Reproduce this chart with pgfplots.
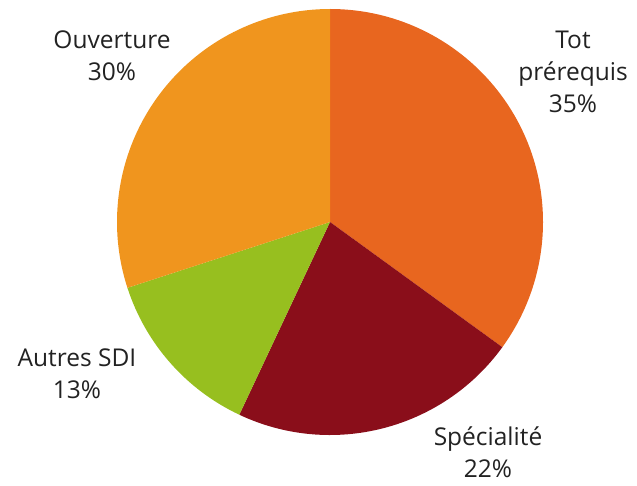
\documentclass[border=0pt]{standalone}
\usepackage{pgfplots}
\usepackage{pgfplotstable}
\pgfplotsset{compat=1.18}
\usepackage{fontspec}
\setmainfont{Open Sans}
\definecolor{cTot}{HTML}{E8661F}
\definecolor{cSpec}{HTML}{8A0E1A}
\definecolor{cAut}{HTML}{97BF1F}
\definecolor{cOuv}{HTML}{F0951E}
\definecolor{txt}{HTML}{222222}
\pgfplotstableread{
label value
Tot 35
Spec 22
Autres 13
Ouv 30
}\piedata
\pgfplotstablegetelem{0}{value}\of\piedata\let\vA\pgfplotsretval
\pgfplotstablegetelem{1}{value}\of\piedata\let\vB\pgfplotsretval
\pgfplotstablegetelem{2}{value}\of\piedata\let\vC\pgfplotsretval
\pgfplotstablegetelem{3}{value}\of\piedata\let\vD\pgfplotsretval
\pgfmathsetmacro\aA{90}
\pgfmathsetmacro\aB{\aA-3.6*\vA}
\pgfmathsetmacro\aC{\aB-3.6*\vB}
\pgfmathsetmacro\aD{\aC-3.6*\vC}
\pgfmathsetmacro\aE{\aD-3.6*\vD}
\begin{document}
\begin{tikzpicture}
\begin{axis}[
  at={(0,0)}, anchor=south west,
  width=637pt, height=485pt, scale only axis,
  xmin=0, xmax=637, ymin=0, ymax=485,
  axis lines=none, clip=false,
  font=\fontsize{24.5}{32}\selectfont,
]
\fill[cTot] (axis cs:330,263) -- ++(\aA:213pt) arc[start angle=\aA, end angle=\aB, radius=213pt] -- cycle;
\fill[cSpec] (axis cs:330,263) -- ++(\aB:213pt) arc[start angle=\aB, end angle=\aC, radius=213pt] -- cycle;
\fill[cAut] (axis cs:330,263) -- ++(\aC:213pt) arc[start angle=\aC, end angle=\aD, radius=213pt] -- cycle;
\fill[cOuv] (axis cs:330,263) -- ++(\aD:213pt) arc[start angle=\aD, end angle=\aE, radius=213pt] -- cycle;
\node[align=center, text=txt] at (axis cs:573,413) {Tot\\prérequis\\35\%};
\node[align=center, text=txt] at (axis cs:112,429) {Ouverture\\30\%};
\node[align=center, text=txt] at (axis cs:77,111) {Autres SDI\\13\%};
\node[align=center, text=txt] at (axis cs:488,33) {Spécialité\\22\%};
\end{axis}
\pgfresetboundingbox
\path (0,0) rectangle (637pt,485pt);
\end{tikzpicture}
\end{document}
